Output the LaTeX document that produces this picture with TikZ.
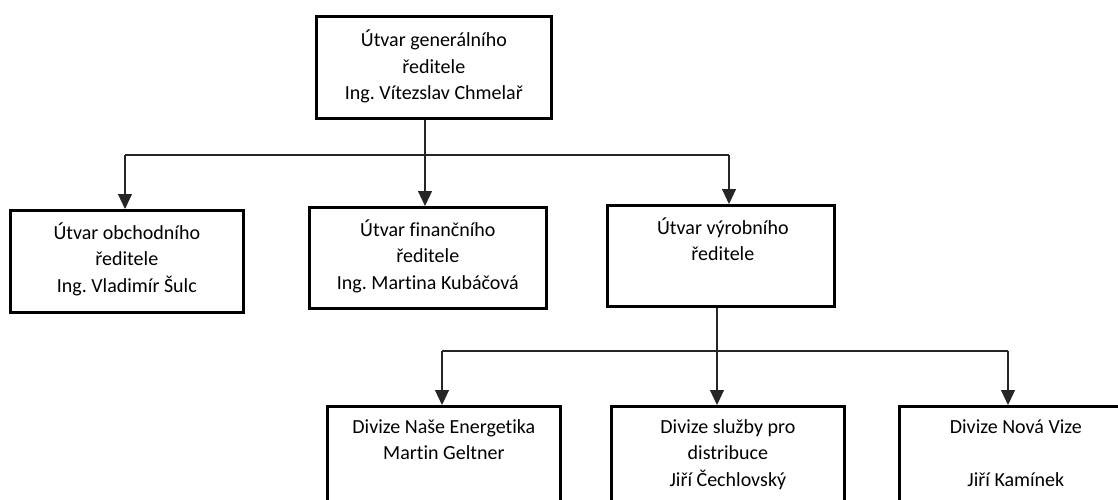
\documentclass[tikz,border=0pt]{standalone}
\usepackage{fontspec}
\setmainfont{Carlito}[Ligatures=NoCommon]
\usetikzlibrary{arrows.meta}
\frenchspacing
\newcommand{\boxlines}[1]{\begin{tabular}[t]{@{}c@{}}#1\end{tabular}}
\begin{document}
\begin{tikzpicture}[x=1pt,y=-1pt,
  orgbox/.style={draw=black,line width=2.7pt,inner sep=0pt,anchor=north west},
  txt/.style={anchor=base,inner sep=0pt,font=\fontsize{20}{26.5}\selectfont},
  conn/.style={draw=black!85,line width=1.1pt},
  arr/.style={conn,-{Triangle[length=15pt,width=14pt]}}]
\useasboundingbox (0,0) rectangle (1118,500);
% boxes
\node[orgbox,minimum width=235pt,minimum height=102pt] (top) at (315,15) {};
\node[orgbox,minimum width=233pt,minimum height=102pt] (b1) at (9,209) {};
\node[orgbox,minimum width=237pt,minimum height=101pt] (b2) at (308,206) {};
\node[orgbox,minimum width=227pt,minimum height=101pt] (b3) at (606,204) {};
\node[orgbox,minimum width=233pt,minimum height=130pt] (b4) at (326,405) {};
\node[orgbox,minimum width=233pt,minimum height=130pt] (b5) at (610,405) {};
\node[orgbox,minimum width=233pt,minimum height=130pt] (b6) at (898,405) {};
% texts
\node[txt] (t0) at ([yshift=-32pt]top.north) {\boxlines{Útvar generálního\\ředitele\\Ing. Vítezslav Chmelař}};
\node[txt] (t1) at ([yshift=-30pt]b1.north) {\boxlines{Útvar obchodního\\ředitele\\Ing. Vladimír Šulc}};
\node[txt] (t2) at ([yshift=-30pt]b2.north) {\boxlines{Útvar finančního\\ředitele\\Ing. Martina Kubáčová}};
\node[txt] (t3) at ([yshift=-30pt,xshift=2pt]b3.north) {\boxlines{Útvar výrobního\\ředitele}};
\node[txt] (t4) at ([yshift=-28pt]b4.north) {\boxlines{Divize Naše Energetika\\Martin Geltner}};
\node[txt] (t5) at ([yshift=-28pt]b5.north) {\boxlines{Divize služby pro\\distribuce\\Jiří Čechlovský}};
\node[txt] (t6) at ([yshift=-28pt]b6.north) {\boxlines{Divize Nová Vize\\ \\Jiří Kamínek}};
% connectors level 1
\coordinate (j0) at (425,155);
\coordinate (jl) at (125,155);
\coordinate (jr) at (729,155);
\draw[conn] (top.south -| j0) -- (j0);
\draw[conn] (jl) -- (jr);
\draw[arr] (jl) -- (b1.north -| jl);
\draw[arr] (j0) -- (b2.north -| j0);
\draw[arr] (jr) -- (b3.north -| jr);
% connectors level 2
\coordinate (k0) at (717,351);
\coordinate (kl) at (442,351);
\coordinate (kr) at (1008,351);
\draw[conn] (b3.south -| k0) -- (k0);
\draw[conn] (kl) -- (kr);
\draw[arr] (kl) -- (b4.north -| kl);
\draw[arr] (k0) -- (b5.north -| k0);
\draw[arr] (kr) -- (b6.north -| kr);
\end{tikzpicture}
\end{document}
